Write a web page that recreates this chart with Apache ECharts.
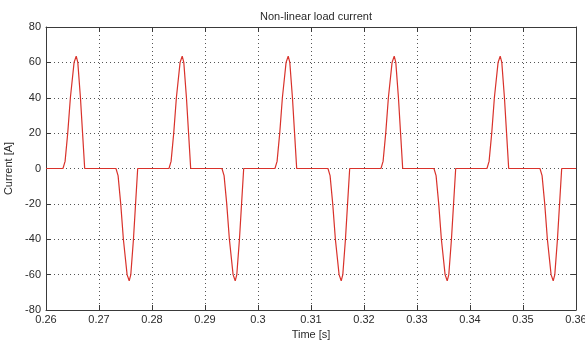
<!DOCTYPE html>
<html>
<head>
<meta charset="utf-8">
<script src="https://cdn.jsdelivr.net/npm/echarts@6/dist/echarts.min.js"></script>
<style>
html,body{margin:0;padding:0;background:#fff;}
#chart{width:585px;height:340px;}
</style>
</head>
<body>
<div id="chart"></div>
<script>
var chartTitle = 'Non-linear load current';
var xName = 'Time [s]';
var yName = 'Current [A]';
var xTickLabels = ['0.26','0.27','0.28','0.29','0.3','0.31','0.32','0.33','0.34','0.35','0.36'];
var yTickLabels = ['-80','-60','-40','-20','0','20','40','60','80'];

var timeS = [
  0.2600,
  0.2632,0.2636,0.2641,0.2646,0.2653,0.2657,0.2660,0.2665,0.2669,0.2673,
  0.2732,0.2736,0.2741,0.2746,0.2753,0.2757,0.2760,0.2765,0.2769,0.2773,
  0.2832,0.2836,0.2841,0.2846,0.2853,0.2857,0.2860,0.2865,0.2869,0.2873,
  0.2932,0.2936,0.2941,0.2946,0.2953,0.2957,0.2960,0.2965,0.2969,0.2973,
  0.3032,0.3036,0.3041,0.3046,0.3053,0.3057,0.3060,0.3065,0.3069,0.3073,
  0.3132,0.3136,0.3141,0.3146,0.3153,0.3157,0.3160,0.3165,0.3169,0.3173,
  0.3232,0.3236,0.3241,0.3246,0.3253,0.3257,0.3260,0.3265,0.3269,0.3273,
  0.3332,0.3336,0.3341,0.3346,0.3353,0.3357,0.3360,0.3365,0.3369,0.3373,
  0.3432,0.3436,0.3441,0.3446,0.3453,0.3457,0.3460,0.3465,0.3469,0.3473,
  0.3532,0.3536,0.3541,0.3546,0.3553,0.3557,0.3560,0.3565,0.3569,0.3573,
  0.3600
];
var currentA = [
  0,
  0,4,20,40,60,63.5,60,40,20,0,
  0,-4,-20,-40,-60,-63.5,-60,-40,-20,0,
  0,4,20,40,60,63.5,60,40,20,0,
  0,-4,-20,-40,-60,-63.5,-60,-40,-20,0,
  0,4,20,40,60,63.5,60,40,20,0,
  0,-4,-20,-40,-60,-63.5,-60,-40,-20,0,
  0,4,20,40,60,63.5,60,40,20,0,
  0,-4,-20,-40,-60,-63.5,-60,-40,-20,0,
  0,4,20,40,60,63.5,60,40,20,0,
  0,-4,-20,-40,-60,-63.5,-60,-40,-20,0,
  0
];

var seriesData = timeS.map(function(t, i){ return [t, currentA[i]]; });

var FONT = "'Liberation Sans', Arial, Helvetica, sans-serif";
var TXT = '#2a2a2a';
var AX = '#3a3a3a';

function xLab(v){ var i = Math.round((v - 0.26) / 0.01); return xTickLabels[i] || ''; }
function yLab(v){ var i = Math.round((v + 80) / 20); return yTickLabels[i] || ''; }

var chart = echarts.init(document.getElementById('chart'), null, {renderer:'canvas'});
chart.setOption({
  animation: false,
  backgroundColor: '#ffffff',
  title: {
    text: chartTitle, left: 311, top: 6, textAlign: 'center',
    textStyle: {fontFamily: FONT, fontSize: 11, fontWeight: 'normal', color: TXT}
  },
  grid: {left: 46, right: 9, top: 27, bottom: 30, containLabel: false, outerBoundsMode: 'none'},
  xAxis: [{
    type: 'value', min: 0.26, max: 0.36, interval: 0.01, position: 'bottom',
    name: xName, nameLocation: 'middle', nameGap: 16,
    nameTextStyle: {fontFamily: FONT, fontSize: 11, color: TXT},
    axisLine: {show: true, onZero: false, lineStyle: {color: AX, width: 1}},
    axisTick: {show: true, inside: true, length: 5, lineStyle: {color: AX}},
    axisLabel: {show: true, formatter: xLab, margin: 4, fontFamily: FONT, fontSize: 11, color: TXT, showMinLabel: true, showMaxLabel: true, hideOverlap: false},
    splitLine: {show: true, lineStyle: {color: '#555', type: [1, 3], width: 1}}
  }, {
    type: 'value', min: 0.26, max: 0.36, interval: 0.01, position: 'top',
    axisLine: {show: true, onZero: false, lineStyle: {color: AX, width: 1}},
    axisTick: {show: true, inside: true, length: 5, lineStyle: {color: AX}},
    axisLabel: {show: false}, splitLine: {show: false}
  }],
  yAxis: [{
    type: 'value', min: -80, max: 80, interval: 20, position: 'left',
    name: yName, nameLocation: 'middle', nameGap: 24,
    nameTextStyle: {fontFamily: FONT, fontSize: 11, color: TXT},
    axisLine: {show: true, onZero: false, lineStyle: {color: AX, width: 1}},
    axisTick: {show: true, inside: true, length: 5, lineStyle: {color: AX}},
    axisLabel: {show: true, formatter: yLab, margin: 5, fontFamily: FONT, fontSize: 11, color: TXT},
    splitLine: {show: true, lineStyle: {color: '#555', type: [1, 3], width: 1}}
  }, {
    type: 'value', min: -80, max: 80, interval: 20, position: 'right',
    axisLine: {show: true, onZero: false, lineStyle: {color: AX, width: 1}},
    axisTick: {show: true, inside: true, length: 5, lineStyle: {color: AX}},
    axisLabel: {show: false}, splitLine: {show: false}
  }],
  series: [{
    type: 'line', xAxisIndex: 0, yAxisIndex: 0,
    data: seriesData, showSymbol: false, smooth: false,
    lineStyle: {color: '#d9322b', width: 1.2},
    z: 5
  }]
});
</script>
</body>
</html>
